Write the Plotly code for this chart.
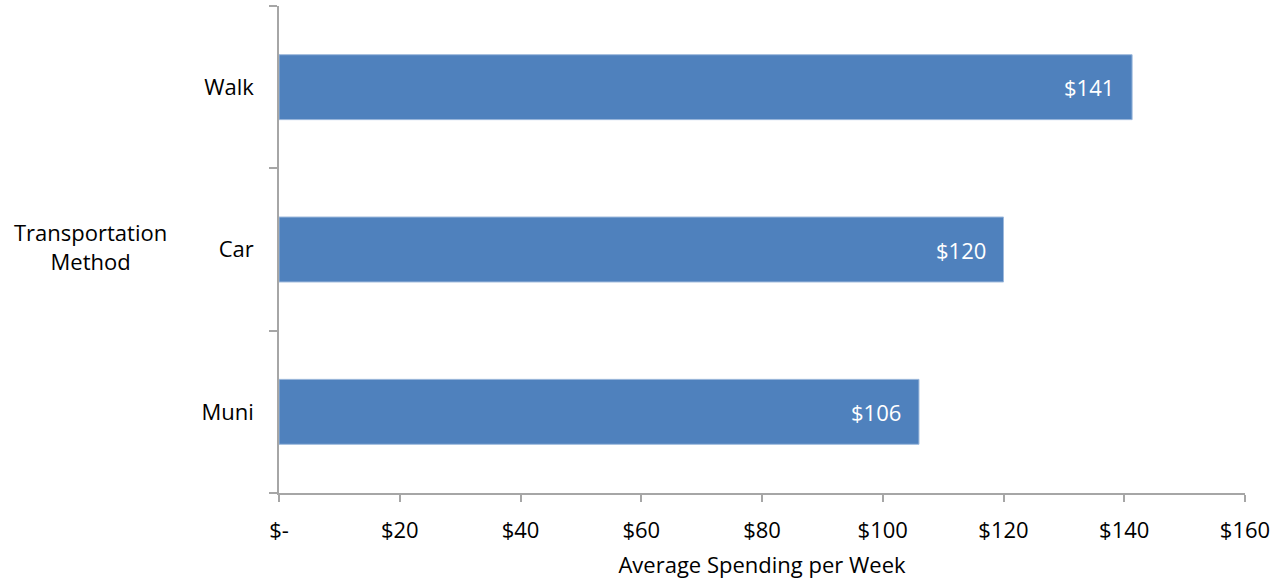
import plotly.graph_objects as go

categories = ["Muni", "Car", "Walk"]
values = [106, 120, 141.3]
labels = ["$106", "$120", "$141"]
x_tickvals = [0, 20, 40, 60, 80, 100, 120, 140, 160]
x_ticktext = ["$-", "$20", "$40", "$60", "$80", "$100", "$120", "$140", "$160"]

FONT = "Open Sans, sans-serif"
FS = 22

fig = go.Figure()
fig.add_trace(go.Bar(
    y=categories, x=values, orientation="h",
    width=0.4,
    marker=dict(color="#4F81BD", line=dict(color="#9DB9DC", width=1)),
    hoverinfo="skip",
))

for c, v, t in zip(categories, values, labels):
    fig.add_annotation(x=v, y=c, text=t, showarrow=False, xanchor="right",
                       xshift=-16, font=dict(family=FONT, size=FS, color="white"))

fig.add_annotation(xref="x domain", yref="y domain",
                   x=(90 - 279) / (1245 - 279), y=(493 - 247) / (493 - 6),
                   xanchor="center", yanchor="middle",
                   text="Transportation<br>Method", showarrow=False,
                   font=dict(family=FONT, size=FS, color="black"))

fig.update_layout(
    width=1287, height=583,
    margin=dict(l=279, r=42, t=6, b=90),
    plot_bgcolor="white", paper_bgcolor="white",
    showlegend=False,
    font=dict(family=FONT, size=FS, color="black"),
)
fig.update_xaxes(
    range=[0, 160], tickvals=x_tickvals, ticktext=x_ticktext,
    showgrid=False, zeroline=False,
    showline=True, linecolor="#A6A6A6", linewidth=1.5,
    ticks="outside", ticklen=7, tickcolor="#A6A6A6", tickwidth=1.5,
    ticklabelstandoff=10,
    title=dict(text="Average Spending per Week", font=dict(family=FONT, size=FS), standoff=14),
    fixedrange=True,
)
fig.update_yaxes(
    type="category", categoryorder="array", categoryarray=categories,
    range=[-0.5, 2.5],
    showgrid=False, zeroline=False,
    showline=True, linecolor="#A6A6A6", linewidth=1.5,
    ticks="outside", tickson="boundaries", ticklen=8, tickcolor="#A6A6A6", tickwidth=1.5,
    ticklabelstandoff=19,
    fixedrange=True,
)

fig.write_html("out.html")
